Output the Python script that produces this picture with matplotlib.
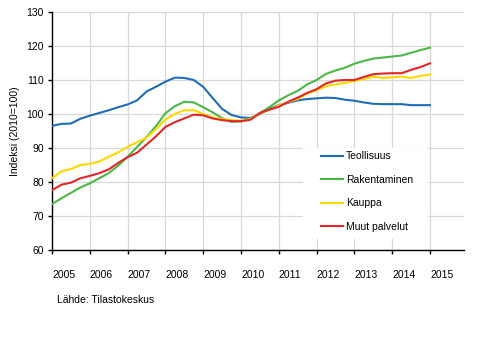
import matplotlib
matplotlib.use("Agg")
import matplotlib.pyplot as plt
from matplotlib.patches import Rectangle
import numpy as np

plt.rcParams['font.family'] = ['Liberation Sans', 'DejaVu Sans']

# Quarterly time points 2005.00 ... 2015.00
time = [2005 + 0.25 * i for i in range(41)]

teollisuus = [96.5, 97.1, 97.2, 98.6, 99.5, 100.3, 101.1, 102.0, 102.8, 104.0,
              106.6, 108.0, 109.5, 110.7, 110.6, 110.0, 108.0, 104.7, 101.5, 99.7,
              99.0, 98.8, 100.0, 101.5, 102.6, 103.3, 104.0, 104.4, 104.6, 104.8,
              104.7, 104.2, 103.9, 103.4, 103.0, 102.9, 102.9, 102.9, 102.6, 102.6,
              102.6]
rakentaminen = [73.5, 75.2, 76.8, 78.4, 79.6, 81.1, 82.6, 84.8, 87.4, 90.3,
                93.2, 96.4, 100.2, 102.3, 103.6, 103.4, 102.0, 100.5, 98.8, 97.7,
                97.8, 98.6, 100.3, 102.0, 104.0, 105.5, 106.8, 108.7, 110.0, 111.8,
                112.8, 113.6, 114.8, 115.6, 116.3, 116.6, 116.9, 117.2, 118.0, 118.8,
                119.5]
kauppa = [81.1, 83.1, 83.8, 85.0, 85.3, 86.0, 87.4, 88.7, 90.3, 91.7,
          93.0, 95.5, 98.4, 100.0, 101.1, 101.1, 100.0, 99.0, 98.5, 98.2,
          98.0, 98.5, 100.2, 101.2, 102.5, 103.5, 104.4, 106.0, 107.0, 108.2,
          108.7, 109.1, 109.7, 110.3, 111.0, 110.6, 110.8, 111.0, 110.6, 111.2,
          111.6]
muut_palvelut = [77.6, 79.2, 79.8, 81.1, 81.8, 82.6, 83.7, 85.6, 87.3, 88.6,
                 91.0, 93.4, 96.2, 97.6, 98.7, 99.8, 99.6, 98.7, 98.2, 97.9,
                 97.9, 98.3, 100.3, 101.3, 102.1, 103.6, 104.8, 106.2, 107.3, 109.0,
                 109.8, 110.0, 110.0, 110.9, 111.7, 111.9, 112.0, 112.0, 113.0, 113.8,
                 114.9]

series_names = ["Teollisuus", "Rakentaminen", "Kauppa", "Muut palvelut"]
series_values = [teollisuus, rakentaminen, kauppa, muut_palvelut]
colors = ["#1f6db8", "#4cb847", "#ffd800", "#e2272c"]

years = list(range(2005, 2016))
year_labels = [str(y) for y in years]
yticks = list(range(60, 131, 10))

W, H = 489, 353
fig = plt.figure(figsize=(W / 100, H / 100), dpi=100)
ax = fig.add_axes([52 / W, 1 - 250 / H, (464 - 52) / W, (250 - 12) / H])

for name, vals, c in zip(series_names, series_values, colors):
    ax.plot(time, vals, color=c, lw=1.5, label=name, zorder=3)

ax.set_xlim(2005, 2015.9)
ax.set_ylim(60, 130)
ax.set_xticks(years)
ax.set_xticklabels(year_labels, ha='left')
ax.set_yticks(yticks)
ax.tick_params(axis='both', labelsize=7.5, length=3, width=1, color='black',
               direction='out')
ax.tick_params(axis='x', pad=11.5)
ax.tick_params(axis='y', pad=3)

ax.grid(True, color='#d9d9d9', lw=0.9)
ax.set_axisbelow(True)
for s in ['top', 'right']:
    ax.spines[s].set_visible(False)
for s in ['left', 'bottom']:
    ax.spines[s].set_linewidth(1.0)
    ax.spines[s].set_color('black')

# legend background box
rect = Rectangle((303 / W, 1 - 239 / H), (428 - 303) / W, (239 - 148) / H,
                 transform=fig.transFigure, facecolor='white', edgecolor='none',
                 zorder=2)
ax.add_patch(rect)
rect.set_clip_on(False)

leg = ax.legend(loc='upper left', bbox_to_anchor=(313 / W, 1 - 143 / H),
                bbox_transform=fig.transFigure, frameon=False, fontsize=7.5,
                handlelength=2.1, handletextpad=0.25, labelspacing=1.3,
                borderpad=0.3)
leg.set_zorder(4)

fig.text(15 / W, 1 - 131 / H, "Indeksi (2010=100)", rotation=90, fontsize=7.5,
         ha='center', va='center')
fig.text(57 / W, 1 - 300 / H, "Lähde: Tilastokeskus", fontsize=7.5,
         ha='left', va='center')

fig.savefig("out.png", dpi=100)
